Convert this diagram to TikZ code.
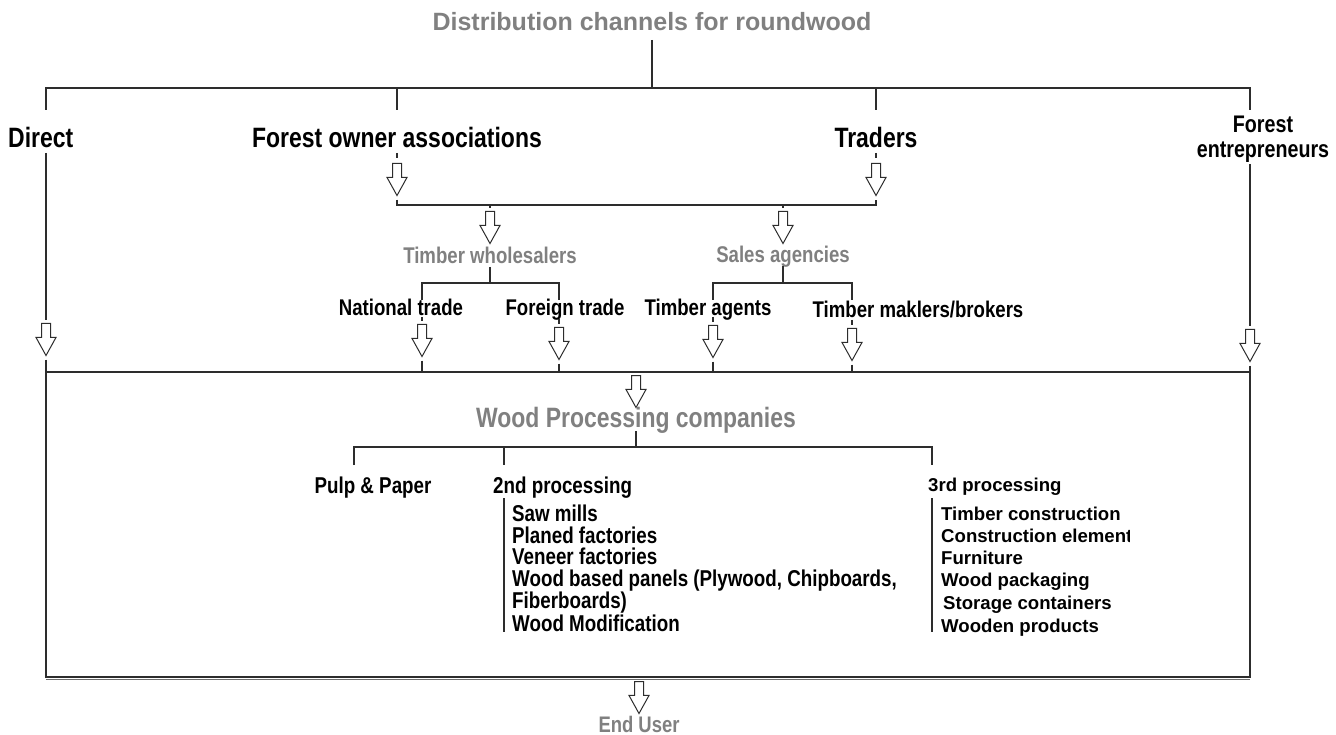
\documentclass[tikz,border=0pt]{standalone}
\usepackage{fontspec}
\setmainfont{Liberation Sans}
\newfontfamily\nar[FakeStretch=0.82]{Liberation Sans}
\usetikzlibrary{shapes.arrows}
\definecolor{gtext}{RGB}{128,128,128}
\definecolor{ln}{RGB}{45,45,45}
\begin{document}
\begin{tikzpicture}[x=1pt,y=-1pt,
  conn/.style={draw=ln,line width=1.1pt},
  ttl/.style={font=\bfseries\fontsize{25}{30}\selectfont,text=gtext,inner sep=0pt,anchor=base},
  lvl/.style={font=\nar\bfseries\fontsize{28}{30}\selectfont,inner sep=0pt,anchor=base},
  glvl/.style={lvl,text=gtext},
  sub/.style={font=\nar\bfseries\fontsize{22.7}{26}\selectfont,inner sep=0pt,anchor=base},
  gsub/.style={sub,text=gtext},
  item/.style={font=\nar\bfseries\fontsize{22.9}{26}\selectfont,inner sep=0pt,anchor=base west},
  witem/.style={font=\bfseries\fontsize{18.6}{22}\selectfont,inner sep=0pt,anchor=base west},
  harrow/.style={single arrow,draw=ln,line width=1pt,fill=white,rotate=270,anchor=tail,
    minimum height=32pt,minimum width=19pt,single arrow head extend=5.5pt,
    single arrow tip angle=58,inner xsep=0pt,inner ysep=4pt}]
\useasboundingbox (0,0) rectangle (1336,735);
% ---------- level 0
\node[ttl] (title) at (652,31) {Distribution channels for roundwood};
\coordinate (t0) at (652,40);
\coordinate (t1) at (652,88);
\draw[conn] (t0) -- (t1);
\draw[conn] (46,110) -- (46,88) -- (1250,88) -- (1250,110);
\draw[conn] (397,88) -- (397,110);
\draw[conn] (876,88) -- (876,110);
% ---------- level 1
\node[lvl,anchor=base west] (direct) at (8,148) {Direct};
\node[lvl] (foa) at (397,148) {Forest owner associations};
\node[lvl] (trad) at (876,148) {Traders};
\node[lvl,font=\nar\bfseries\fontsize{24}{25}\selectfont,anchor=north,align=center] (fe) at (1263,116) {Forest\\entrepreneurs};
% ---------- arrows
\node[harrow] (aFOA) at (397,163) {};
\node[harrow] (aTR) at (876,163) {};
\node[harrow] (aTW) at (490,211) {};
\node[harrow] (aSA) at (783,211) {};
\node[harrow] (aD) at (46,323) {};
\node[harrow] (aNT) at (422,324) {};
\node[harrow] (aFT) at (559,327) {};
\node[harrow] (aAG) at (713,325) {};
\node[harrow] (aBR) at (852,328) {};
\node[harrow] (aFE) at (1250,329) {};
\node[harrow] (aWP) at (636,375) {};
\node[harrow] (aEU) at (639,681) {};
% ---------- direct and forest entrepreneurs
\draw[conn] (46,153) -- ([yshift=3pt]aD.tail);
\draw[conn] ([yshift=-3pt]aD.tip) -- (46,372);
\draw[conn] (1250,164) -- ([yshift=3pt]aFE.tail);
\draw[conn] ([yshift=-3pt]aFE.tip) -- (1250,372);
% ---------- FOA / traders
\draw[conn] (397,153) -- (397,158);
\draw[conn] (876,153) -- (876,158);
\coordinate (h2) at (636,205);
\draw[conn] ([yshift=-3pt]aFOA.tip) |- (h2) -| ([yshift=-3pt]aTR.tip);
\draw[conn] (aTW.tail |- h2) -- ([yshift=3pt]aTW.tail);
\draw[conn] (aSA.tail |- h2) -- ([yshift=3pt]aSA.tail);
% ---------- wholesalers / agencies
\node[gsub] (tw) at (490,264) {Timber wholesalers};
\node[gsub] (sa) at (783,263) {Sales agencies};
\draw[conn] (490,267) -- (490,283);
\draw[conn] (422,300) -- (422,283) -- (559,283) -- (559,300);
\draw[conn] (783,266) -- (783,283);
\draw[conn] (713,300) -- (713,283) -- (852,283) -- (852,300);
\node[sub] (nt) at (401,316) {National trade};
\node[sub] (ft) at (565,316) {Foreign trade};
\node[sub] (ag) at (708,316) {Timber agents};
\node[sub] (br) at (918,318) {Timber maklers/brokers};
\draw[conn] (422,317) -- ([yshift=3pt]aNT.tail);
\draw[conn] (559,319) -- ([yshift=3pt]aFT.tail);
\draw[conn] (713,317) -- ([yshift=3pt]aAG.tail);
\draw[conn] (852,320) -- ([yshift=3pt]aBR.tail);
\coordinate (h3) at (636,372);
\draw[conn] ([yshift=-3pt]aNT.tip) -- (aNT.tip |- h3);
\draw[conn] ([yshift=-3pt]aFT.tip) -- (aFT.tip |- h3);
\draw[conn] ([yshift=-3pt]aAG.tip) -- (aAG.tip |- h3);
\draw[conn] ([yshift=-3pt]aBR.tip) -- (aBR.tip |- h3);
% ---------- box
\draw[conn] (46,372) rectangle (1250,677);
\draw[draw=ln!70,line width=1pt] (46,679) -- (1250,679);
% ---------- processing
\node[glvl] (wp) at (636,427) {Wood Processing companies};
\draw[conn] (636,431) -- (636,447);
\draw[conn] (354,465) -- (354,447) -- (932,447) -- (932,465);
\draw[conn] (504,447) -- (504,465);
\node[sub,font=\nar\bfseries\fontsize{22.9}{26}\selectfont] (pp) at (373,493) {Pulp \& Paper};
\node[item] (p2) at (493,493) {2nd processing};
\node[witem] (p3) at (928,491) {3rd processing};
\draw[conn] (504,498) -- (504,632);
\draw[conn] (932,498) -- (932,632);
\node[item] (c21) at (512,521) {Saw mills};
\node[item] (c22) at (512,543) {Planed factories};
\node[item] (c23) at (512,564) {Veneer factories};
\node[item] (c24) at (512,586) {Wood based panels (Plywood, Chipboards,};
\node[item] (c25) at (512,608) {Fiberboards)};
\node[item] (c26) at (512,631) {Wood Modification};
\node[witem] (c31) at (941,520) {Timber construction};
\begin{scope}
\clip (935,525) rectangle (1129,550);
\node[witem] (c32) at (941,542) {Construction element};
\end{scope}
\node[witem] (c33) at (941,564) {Furniture};
\node[witem] (c34) at (941,586) {Wood packaging};
\node[witem] (c35) at (943,609) {Storage containers};
\node[witem] (c36) at (941,632) {Wooden products};
% ---------- end user
\node[gsub,font=\nar\bfseries\fontsize{22.5}{24}\selectfont] (eu) at (639,732) {End User};
\end{tikzpicture}
\end{document}
